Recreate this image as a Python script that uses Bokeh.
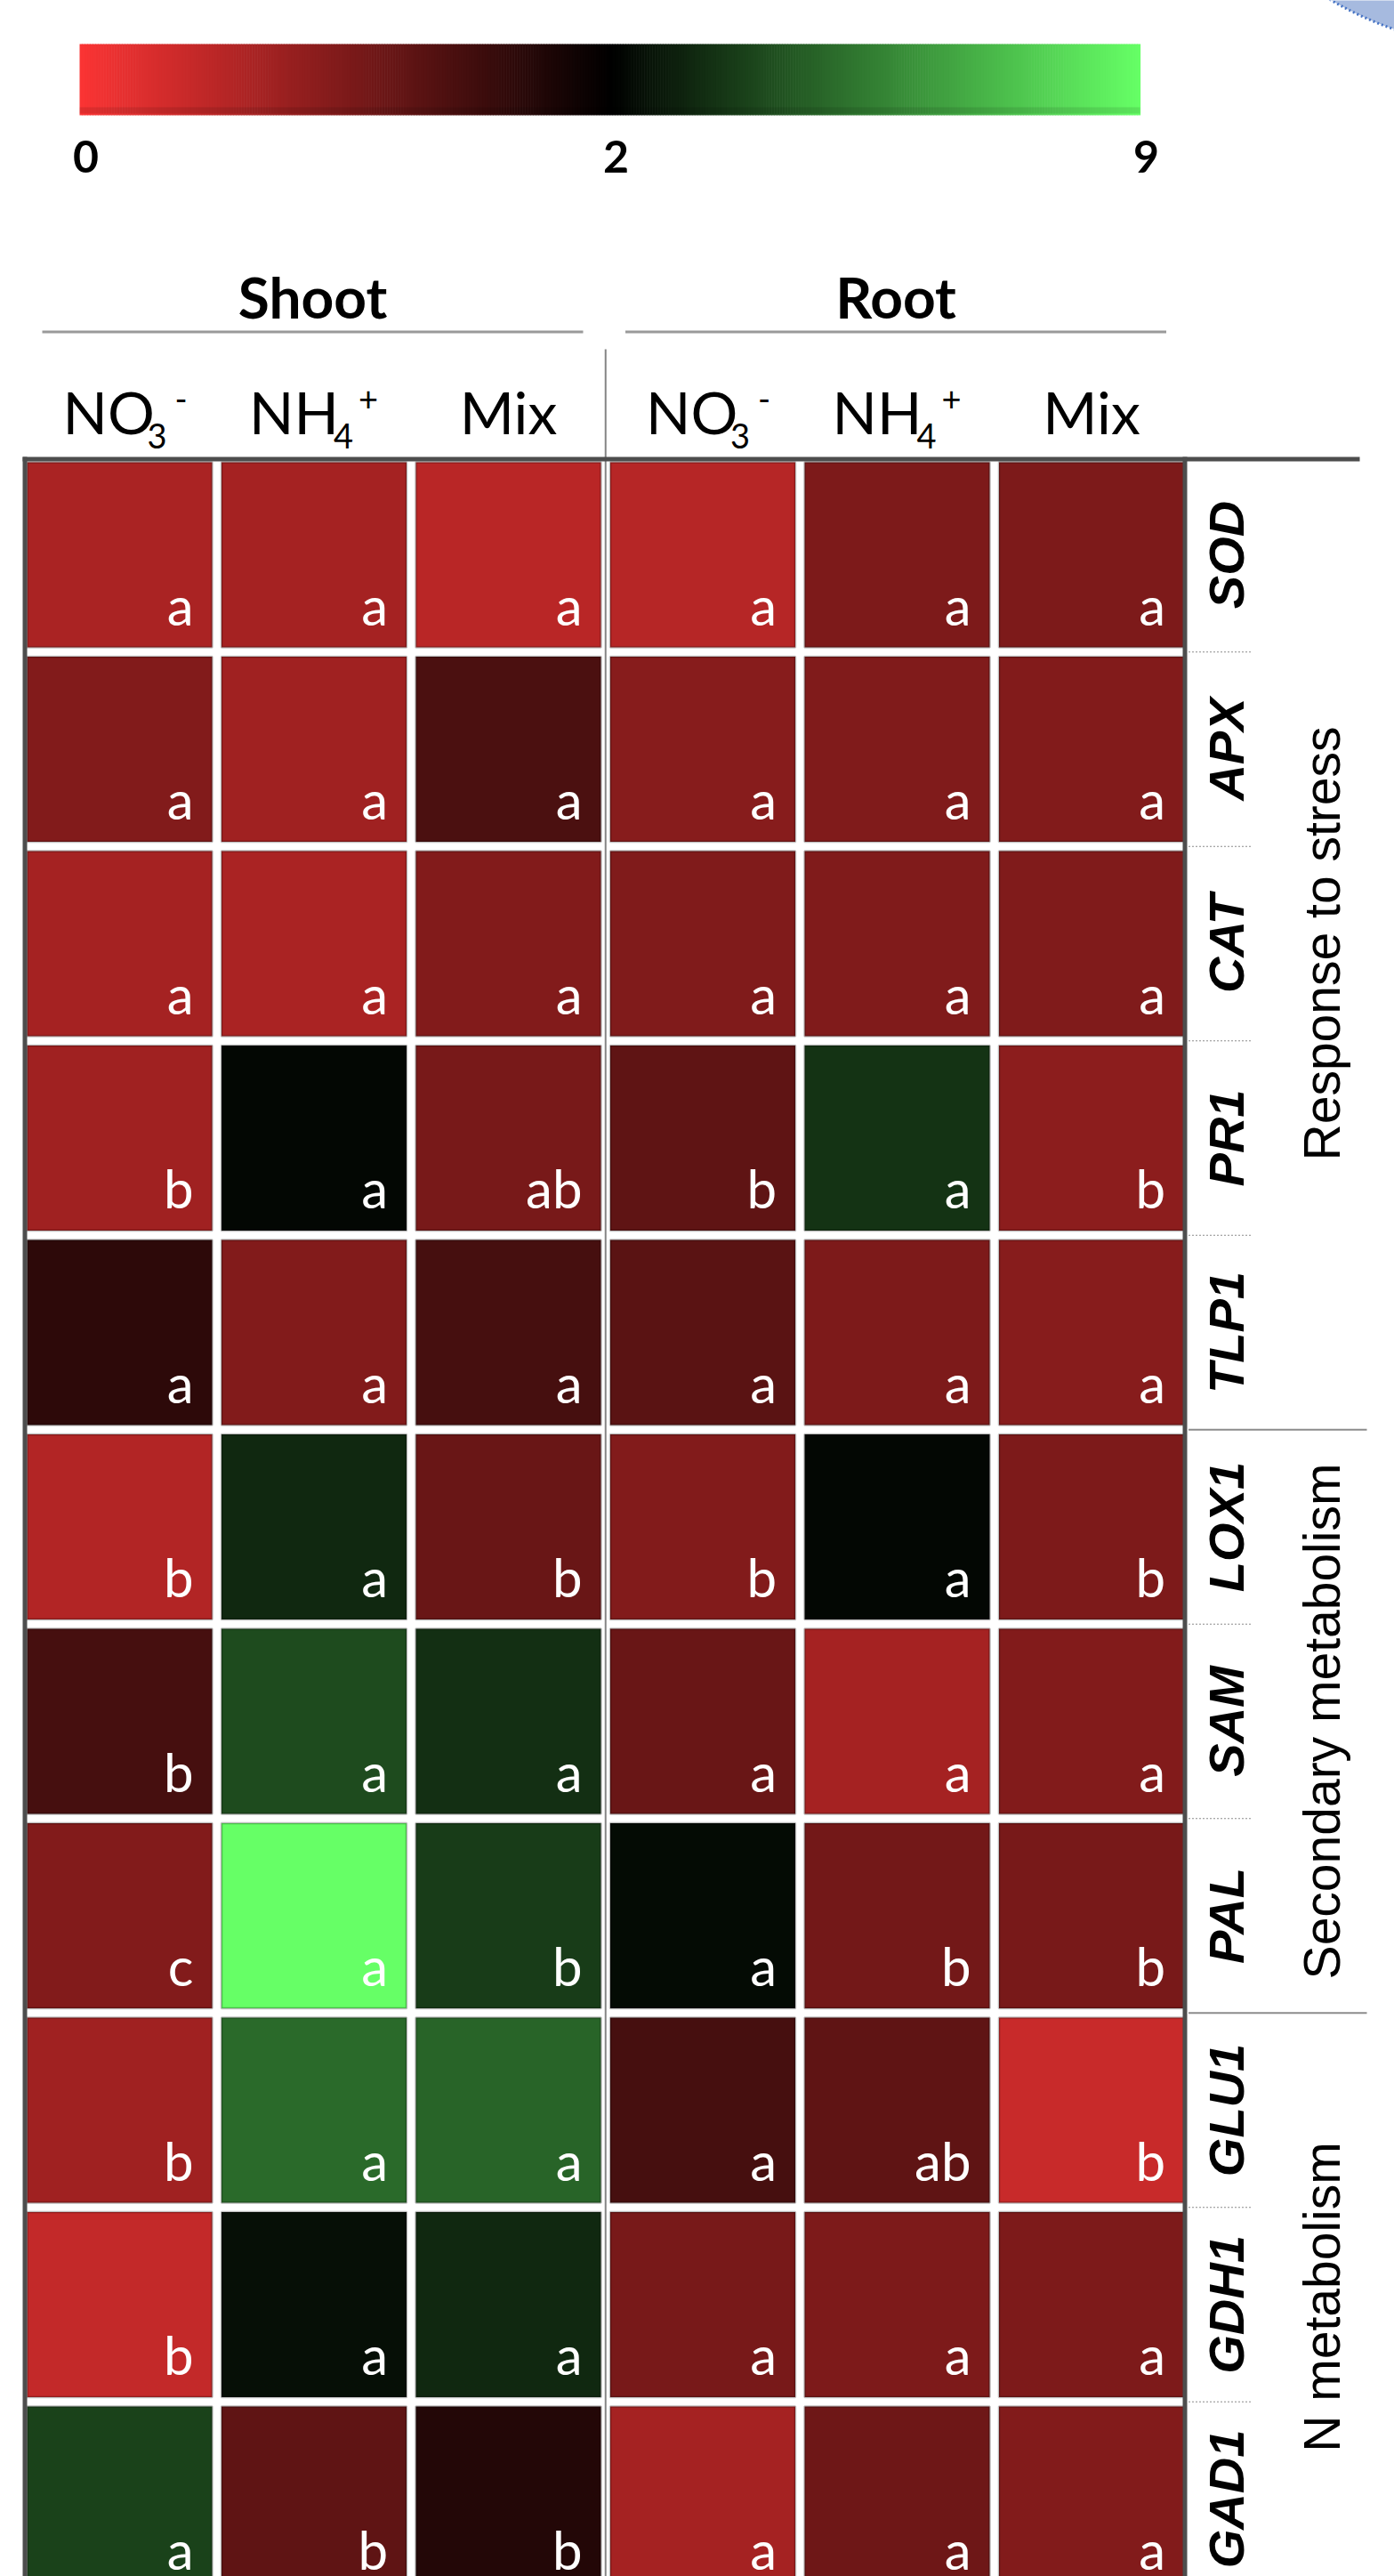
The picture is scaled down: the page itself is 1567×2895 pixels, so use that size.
import numpy as np
from bokeh.plotting import figure
from bokeh.models import Range1d, ColumnDataSource, LinearColorMapper
from bokeh.core.properties import value
from bokeh.transform import transform
from bokeh.embed import file_html
from bokeh.resources import INLINE

W, H = 1567, 2895

# ---------------- data ----------------
genes = ["SOD", "APX", "CAT", "PR1", "TLP1", "LOX1", "SAM", "PAL", "GLU1", "GDH1", "GAD1"]
tissues = ["Shoot", "Root"]
# treatment label pieces: main text, subscript, superscript
treat_main = ["NO", "NH", "Mix"]
treat_sub = ["3", "4", ""]
treat_sup = ["-", "+", ""]
groups = ["Response to stress", "Secondary metabolism", "N metabolism"]
group_sizes = [5, 3, 3]

# relative expression, columns: shoot NO3-, NH4+, Mix, root NO3-, NH4+, Mix
expr_SOD = [0.64, 0.68, 0.52, 0.54, 1.00, 1.00]
expr_APX = [0.96, 0.72, 1.40, 0.92, 0.98, 0.96]
expr_CAT = [0.68, 0.64, 0.96, 0.98, 0.98, 0.98]
expr_PR1 = [0.72, 2.20, 1.04, 1.24, 3.40, 0.88]
expr_TLP1 = [1.64, 0.96, 1.44, 1.28, 1.00, 0.92]
expr_LOX1 = [0.58, 3.10, 1.16, 0.96, 2.20, 1.00]
expr_SAM = [1.44, 4.06, 3.30, 1.16, 0.68, 0.96]
expr_PAL = [0.96, 9.00, 3.65, 2.30, 1.08, 1.04]
expr_GLU1 = [0.72, 4.90, 4.75, 1.44, 1.24, 0.40]
expr_GDH1 = [0.44, 2.40, 3.10, 1.04, 1.00, 1.00]
expr_GAD1 = [3.80, 1.24, 1.72, 0.68, 1.12, 0.96]

# significance letters, same column order
sig_SOD = ["a", "a", "a", "a", "a", "a"]
sig_APX = ["a", "a", "a", "a", "a", "a"]
sig_CAT = ["a", "a", "a", "a", "a", "a"]
sig_PR1 = ["b", "a", "ab", "b", "a", "b"]
sig_TLP1 = ["a", "a", "a", "a", "a", "a"]
sig_LOX1 = ["b", "a", "b", "b", "a", "b"]
sig_SAM = ["b", "a", "a", "a", "a", "a"]
sig_PAL = ["c", "a", "b", "a", "b", "b"]
sig_GLU1 = ["b", "a", "a", "a", "ab", "b"]
sig_GDH1 = ["b", "a", "a", "a", "a", "a"]
sig_GAD1 = ["a", "b", "b", "a", "a", "a"]

scale_ticks = [0, 2, 9]

expr_rows = [expr_SOD, expr_APX, expr_CAT, expr_PR1, expr_TLP1, expr_LOX1,
             expr_SAM, expr_PAL, expr_GLU1, expr_GDH1, expr_GAD1]
sig_rows = [sig_SOD, sig_APX, sig_CAT, sig_PR1, sig_TLP1, sig_LOX1,
            sig_SAM, sig_PAL, sig_GLU1, sig_GDH1, sig_GAD1]

# ---------------- colour scale: red (0) -> black (2) -> green (9) ----------------
RED = np.array([250, 52, 52])
GREEN = np.array([102, 255, 102])
LOW, MID, HIGH = scale_ticks


def hexcol(c):
    c = np.clip(np.round(c), 0, 255).astype(int)
    return "#%02x%02x%02x" % tuple(c)


palette = []
for v in np.linspace(LOW, HIGH, 901):
    if v <= MID:
        palette.append(hexcol(RED * (1 - (v - LOW) / (MID - LOW))))
    else:
        palette.append(hexcol(GREEN * (v - MID) / (HIGH - MID)))
mapper = LinearColorMapper(palette=palette, low=LOW, high=HIGH)

# the svg text anchor sits a little below the requested baseline; lift it
def bl(fs):
    return 0.35 * fs

# ---------------- layout ----------------
X0, Y0 = 30.0, 519.0          # top-left of first cell
PITCH, CELL = 218.5, 208.0     # cell spacing and size
ncol = 6
nrow = len(genes)
GRID_R = X0 + (ncol - 1) * PITCH + CELL
GAP = PITCH - CELL

p = figure(width=W, height=H, x_range=Range1d(0, W), y_range=Range1d(H, 0),
           output_backend="svg", toolbar_location=None, min_border=0,
           outline_line_color=None, background_fill_color="white",
           border_fill_color="white")
p.axis.visible = False
p.grid.visible = False

# corner decoration
p.circle(x=[1700], y=[-350], radius=405, fill_color="#a6badf",
         line_color="#4472c4", line_dash="2 3", line_width=3)

# ---------------- colour bar ----------------
BAR_L, BAR_R, BAR_T, BAR_B = 89.0, 1281.0, 49.0, 129.0
nseg = 400
fr = (np.arange(nseg) + 0.5) / nseg
bar_vals = np.where(fr < 0.5, LOW + (MID - LOW) * fr / 0.5,
                    MID + (HIGH - MID) * (fr - 0.5) / 0.5)
seg_w = (BAR_R - BAR_L) / nseg
bar_src = ColumnDataSource(dict(
    left=BAR_L + np.arange(nseg) * seg_w,
    right=BAR_L + (np.arange(nseg) + 1) * seg_w + 0.6,
    v=bar_vals))
p.quad(left="left", right="right", top=BAR_T, bottom=BAR_B, source=bar_src,
       fill_color=transform("v", mapper), line_color=None)
p.quad(left=BAR_L, right=BAR_R, top=BAR_B - 9, bottom=BAR_B - 2,
       fill_color="black", fill_alpha=0.1, line_color=None)

tick_frac = [0.0, 0.5, 1.0]
FS_TICK = 50
p.text(x=[BAR_L + f * (BAR_R - BAR_L) + 7 for f in tick_frac],
       y=[193 - bl(FS_TICK)] * 3,
       text=[str(t) for t in scale_ticks], text_font=value("Lato"),
       text_font_style="bold", text_font_size=f"{FS_TICK}px", text_color="black",
       text_align="center", text_baseline="alphabetic")

# ---------------- headers ----------------
tissue_span = [(0, 2), (3, 5)]
tcx = []
for a, b in tissue_span:
    l = X0 + a * PITCH + 17
    r = X0 + b * PITCH + CELL - 20
    p.line(x=[l, r], y=[372.5, 372.5], line_color="#9a9a9a", line_width=3)
    tcx.append((l + r) / 2)
FS_TISSUE = 64
p.text(x=tcx, y=[355 - bl(FS_TISSUE)] * 2, text=tissues, text_font=value("Lato"),
       text_font_style="bold", text_font_size=f"{FS_TISSUE}px", text_color="black",
       text_align="center", text_baseline="alphabetic")

col_cx = [X0 + c * PITCH + CELL / 2 for c in range(ncol)]
main_off = [-64, -73, 0]
sub_off = [31, 22, 0]
sup_off = [62, 50, 0]
mx, mt, ma = [], [], []
sx, st = [], []
px, pt = [], []
for c in range(ncol):
    k = c % 3
    cx = col_cx[c]
    if treat_sub[k]:
        mx.append(cx + main_off[k]); mt.append(treat_main[k]); ma.append("left")
        sx.append(cx + sub_off[k]); st.append(treat_sub[k])
        px.append(cx + sup_off[k]); pt.append(treat_sup[k])
    else:
        mx.append(cx); mt.append(treat_main[k]); ma.append("center")
FS_TREAT, FS_SCRIPT = 66, 38
p.text(x=mx, y=[485 - bl(FS_TREAT)] * len(mx), text=mt, text_align=ma,
       text_font=value("Lato"), text_font_size=f"{FS_TREAT}px", text_color="black",
       text_baseline="alphabetic")
p.text(x=sx, y=[503 - bl(FS_SCRIPT)] * len(sx), text=st, text_align="left",
       text_font=value("Lato"), text_font_size=f"{FS_SCRIPT}px", text_color="black",
       text_baseline="alphabetic")
p.text(x=px, y=[461 - bl(FS_SCRIPT)] * len(px), text=pt, text_align="left",
       text_font=value("Lato"), text_font_size=f"{FS_SCRIPT}px", text_color="black",
       text_baseline="alphabetic")

# ---------------- heatmap cells ----------------
FS_SIG = 60
cx, cy, vv, lx, ly, lt = [], [], [], [], [], []
for r in range(nrow):
    for c in range(ncol):
        left = X0 + c * PITCH
        top = Y0 + r * PITCH
        cx.append(left + CELL / 2)
        cy.append(top + CELL / 2)
        vv.append(expr_rows[r][c])
        lx.append(left + CELL - 21)
        ly.append(top + CELL - 27 - bl(FS_SIG))
        lt.append(sig_rows[r][c])
cell_src = ColumnDataSource(dict(x=cx, y=cy, v=vv))
p.rect(x="x", y="y", width=CELL, height=CELL, source=cell_src,
       fill_color=transform("v", mapper), line_color="black", line_alpha=0.25,
       line_width=2.5)
p.text(x=lx, y=ly, text=lt, text_font=value("Lato"), text_font_size=f"{FS_SIG}px",
       text_color="white", text_align="right", text_baseline="alphabetic")

# frame
FRAME_TOP = Y0 - 3.5
div_x = X0 + 3 * PITCH - GAP / 2
p.line(x=[div_x, div_x], y=[392, H], line_color="#858585", line_width=2)
p.line(x=[25, 1528], y=[FRAME_TOP, FRAME_TOP], line_color="#4d4d4d", line_width=5)
p.line(x=[27.5, 27.5], y=[FRAME_TOP - 2.5, H], line_color="#4d4d4d", line_width=5)
p.line(x=[GRID_R + 1, GRID_R + 1], y=[FRAME_TOP - 2.5, H], line_color="#4d4d4d",
       line_width=5)

# ---------------- gene and group labels ----------------
FS_GENE, FS_GROUP = 56, 57
row_cy = [Y0 + r * PITCH + CELL / 2 for r in range(nrow)]
p.text(x=[1398 - bl(FS_GENE)] * nrow, y=row_cy, text=genes, angle=np.pi / 2,
       text_font=value("Liberation Sans"), text_font_style="bold italic",
       text_font_size=f"{FS_GENE}px", text_color="black", text_align="center",
       text_baseline="alphabetic")

bounds = np.cumsum([0] + group_sizes)
dot_y, solid_y = [], []
for g in range(len(groups)):
    for k in range(bounds[g] + 1, bounds[g + 1]):
        dot_y.append(Y0 + k * PITCH - GAP / 2)
    if g > 0:
        solid_y.append(Y0 + bounds[g] * PITCH - GAP / 2)
p.segment(x0=[GRID_R + 5] * len(dot_y), x1=[1407] * len(dot_y), y0=dot_y, y1=dot_y,
          line_color="#8c8c8c", line_width=1.2, line_dash="2 2")
p.segment(x0=[GRID_R + 5] * len(solid_y), x1=[1536] * len(solid_y), y0=solid_y,
          y1=solid_y, line_color="#8c8c8c", line_width=2)

gy = []
for g in range(len(groups)):
    top = Y0 + bounds[g] * PITCH
    bot = min(Y0 + (bounds[g + 1] - 1) * PITCH + CELL, H)
    gy.append((top + bot) / 2)
p.text(x=[1505 - bl(FS_GROUP)] * len(groups), y=gy, text=groups, angle=np.pi / 2,
       text_font=value("Liberation Sans"), text_font_size=f"{FS_GROUP}px",
       text_color="black", text_align="center", text_baseline="alphabetic")

open("out.html", "w").write(file_html(p, INLINE))
